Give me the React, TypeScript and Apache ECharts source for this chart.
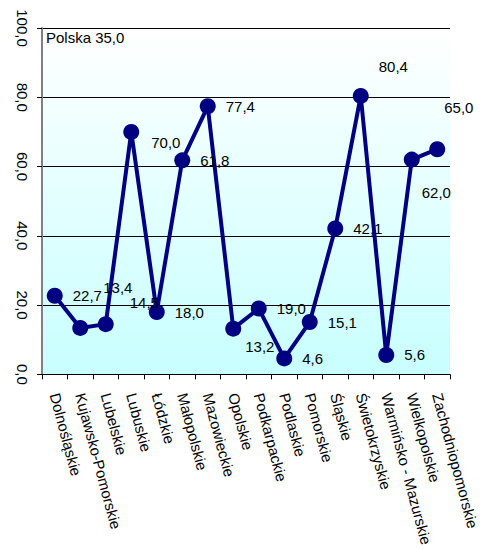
import React, { useEffect, useRef } from "react";
import * as echarts from "echarts";

const categories = [
  "Dolnośląskie",
  "Kujawsko-Pomorskie",
  "Lubelskie",
  "Lubuskie",
  "Łódzkie",
  "Małopolskie",
  "Mazowieckie",
  "Opolskie",
  "Podkarpackie",
  "Podlaskie",
  "Pomorskie",
  "Śląskie",
  "Świetokrzyskie",
  "Warmińsko - Mazurskie",
  "Wielkopolskie",
  "Zachodniopomorskie",
];

const values = [22.7, 13.4, 14.5, 70.0, 18.0, 61.8, 77.4, 13.2, 19.0, 4.6, 15.1, 42.1, 80.4, 5.6, 62.0, 65.0];

const yTicks = { min: 0, max: 100, interval: 20 };
const polskaText = "Polska 35,0";

// label nudges (style only), keyed by category index
const labelNudges: Record<number, [number, number]> = {
  1: [5, -40],
  2: [6, -22],
  3: [2, 11],
  7: [-6, 18],
  12: [0, -29],
  14: [-8, 33],
  15: [-11, -42],
};

const fmt = (v: number) => v.toFixed(1).replace(".", ",");
const FONT = "'Liberation Sans', Arial, sans-serif";

export default function App() {
  const ref = useRef<HTMLDivElement>(null);
  useEffect(() => {
    if (!ref.current) return;
    const chart = echarts.init(ref.current, undefined, { renderer: "svg" });
    const data = values.map((v, i) => {
      const nudge = labelNudges[i];
      return nudge ? { value: v, label: { offset: nudge } } : { value: v };
    });
    chart.setOption({
      animation: false,
      backgroundColor: "#ffffff",
      textStyle: { fontFamily: FONT },
      grid: {
        left: 42,
        right: 34,
        top: 28,
        bottom: 172,
        show: true,
        borderWidth: 0,
        backgroundColor: new echarts.graphic.LinearGradient(0, 0, 0, 1, [
          { offset: 0, color: "#ffffff" },
          { offset: 1, color: "#c8ffff" },
        ]),
      },
      graphic: [
        {
          type: "text",
          left: 46,
          top: 30,
          style: { text: polskaText, font: `15px ${FONT}`, fill: "#000" },
        },
      ],
      xAxis: {
        type: "category",
        data: categories,
        boundaryGap: true,
        axisLine: { show: true, lineStyle: { color: "#000", width: 1 } },
        axisTick: { show: true, length: 5, lineStyle: { color: "#000" } },
        axisLabel: {
          interval: 0,
          rotate: -75,
          margin: 19,
          fontSize: 15,
          color: "#000",
          fontFamily: FONT,
        },
        splitLine: { show: false },
      },
      yAxis: {
        type: "value",
        min: yTicks.min,
        max: yTicks.max,
        interval: yTicks.interval,
        axisLine: { show: true, lineStyle: { color: "#808080", width: 2 } },
        axisTick: { show: true, length: 5, lineStyle: { color: "#000" } },
        axisLabel: {
          rotate: -90,
          margin: 12,
          fontSize: 15,
          color: "#000",
          fontFamily: FONT,
          formatter: (v: number) => fmt(v),
        },
        splitLine: { show: true, lineStyle: { color: "#000", width: 1 } },
      },
      series: [
        {
          type: "line",
          data,
          symbol: "circle",
          symbolSize: 16,
          lineStyle: { color: "#000080", width: 4 },
          itemStyle: { color: "#000080" },
          label: {
            show: true,
            position: "right",
            distance: 10,
            fontSize: 15,
            color: "#000",
            fontFamily: FONT,
            formatter: (p: any) => fmt(p.value),
          },
        },
      ],
    });
    return () => chart.dispose();
  }, []);
  return (
    <div
      ref={ref}
      style={{ position: "fixed", left: 0, top: 0, width: 484, height: 549 }}
    />
  );
}
